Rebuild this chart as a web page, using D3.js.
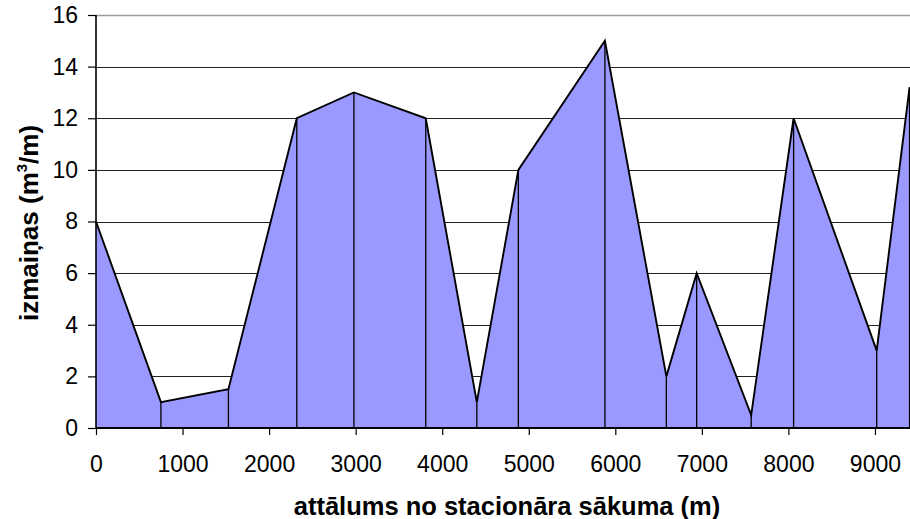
<!DOCTYPE html>
<html>
<head>
<meta charset="utf-8">
<script src="https://cdn.jsdelivr.net/npm/d3@7"></script>
<style>
  html, body { margin: 0; padding: 0; background: #fff; }
  svg { display: block; font-family: "Liberation Sans", Arial, sans-serif; }
</style>
</head>
<body>
<svg id="chart" width="910" height="519"></svg>
<script>
// distance along the section (m) and volume change (m3/m)
const distance = [0, 750, 1530, 2320, 2980, 3810, 4400, 4880, 5880, 6590, 6940, 7570, 8060, 9020, 9400];
const change   = [8, 1, 1.5, 12, 13, 12, 1, 10, 15, 2, 6, 0.5, 12, 3, 13.2];
const xTicks = [0, 1000, 2000, 3000, 4000, 5000, 6000, 7000, 8000, 9000];
const yTicks = [0, 2, 4, 6, 8, 10, 12, 14, 16];

const data = distance.map((d, i) => ({ x: d, y: change[i] }));

const svg = d3.select("#chart");
const plotLeft = 96, plotRight = 910, plotTop = 15, plotBottom = 428;

const x = d3.scaleLinear().domain([0, 9405]).range([plotLeft, plotRight]);
const y = d3.scaleLinear().domain([0, 16]).range([plotBottom, plotTop]);

// horizontal gridlines
svg.append("g")
  .selectAll("line")
  .data(yTicks.filter(t => t > 0))
  .join("line")
  .attr("x1", plotLeft).attr("x2", plotRight)
  .attr("y1", d => Math.round(y(d)) + 0.5)
  .attr("y2", d => Math.round(y(d)) + 0.5)
  .attr("stroke", d => d === 16 ? "#9a9a9a" : "#222")
  .attr("stroke-width", d => d === 16 ? 1.5 : 1);

// filled area
const area = d3.area().x(d => x(d.x)).y0(y(0)).y1(d => y(d.y));
svg.append("path")
  .datum(data)
  .attr("d", area)
  .attr("fill", "#9999ff");

// drop lines from each point to the baseline
svg.append("g")
  .selectAll("line")
  .data(data.slice(1))
  .join("line")
  .attr("x1", d => x(d.x)).attr("x2", d => x(d.x))
  .attr("y1", d => y(d.y)).attr("y2", y(0))
  .attr("stroke", "#000")
  .attr("stroke-width", 1.3);

// outline of the series
const line = d3.line().x(d => x(d.x)).y(d => y(d.y));
svg.append("path")
  .datum(data)
  .attr("d", line)
  .attr("fill", "none")
  .attr("stroke", "#000")
  .attr("stroke-width", 1.9)
  .attr("stroke-linejoin", "miter");

// y axis
const yAxis = svg.append("g")
  .attr("transform", `translate(${plotLeft},0)`)
  .call(d3.axisLeft(y).tickValues(yTicks).tickSize(8).tickPadding(10).tickFormat(d3.format("d")));
yAxis.select(".domain").attr("stroke", "#000").attr("stroke-width", 1.6).attr("d", `M0,${plotTop}V${plotBottom}`);
yAxis.selectAll(".tick line").attr("stroke", "#000").attr("stroke-width", 1.2);
yAxis.selectAll(".tick text")
  .attr("font-size", 23).attr("fill", "#000")
  .attr("font-family", "Liberation Sans, Arial, sans-serif");

// x axis
const xAxis = svg.append("g")
  .attr("transform", `translate(0,${plotBottom})`)
  .call(d3.axisBottom(x).tickValues(xTicks).tickSize(7).tickPadding(21).tickFormat(d3.format("d")));
xAxis.select(".domain").attr("stroke", "#000").attr("stroke-width", 2.2).attr("d", `M${plotLeft},0H${plotRight}`);
xAxis.selectAll(".tick line").attr("stroke", "#000").attr("stroke-width", 1.2);
xAxis.selectAll(".tick text")
  .attr("font-size", 23).attr("fill", "#000")
  .attr("font-family", "Liberation Sans, Arial, sans-serif");

// axis titles
svg.append("text")
  .attr("x", (plotLeft + plotRight) / 2 + 4)
  .attr("y", 515)
  .attr("text-anchor", "middle")
  .attr("font-size", 25.5)
  .attr("font-weight", "bold")
  .text("attālums no stacionāra sākuma (m)");

const yTitle = svg.append("text")
  .attr("transform", "translate(38,223) rotate(-90)")
  .attr("text-anchor", "middle")
  .attr("font-size", 26)
  .attr("font-weight", "bold");
yTitle.append("tspan").text("izmaiņas (m");
yTitle.append("tspan").attr("font-size", 15).attr("dy", -11).text("3");
yTitle.append("tspan").attr("dy", 11).text("/m)");
</script>
</body>
</html>
